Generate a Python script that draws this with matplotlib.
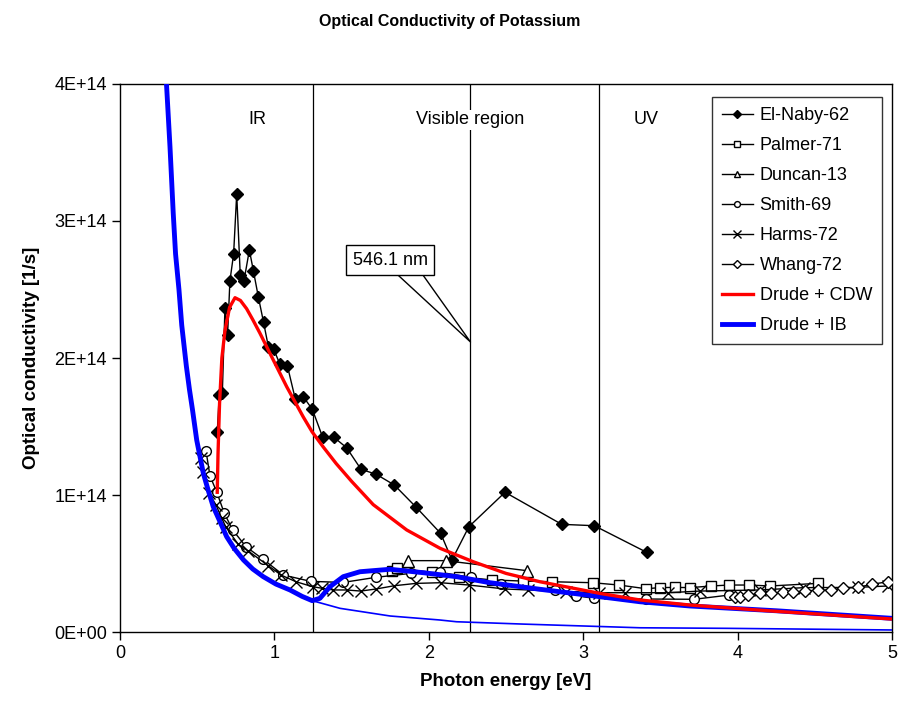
import matplotlib
matplotlib.use('Agg')
import matplotlib.pyplot as plt

plt.rcParams['font.family'] = ['Liberation Sans', 'DejaVu Sans']

elnaby_x = [0.63, 0.643, 0.663, 0.68, 0.697, 0.712, 0.736, 0.756, 0.779, 0.803, 0.838, 0.864,
            0.896, 0.93, 0.961, 0.995, 1.036, 1.084, 1.135, 1.187, 1.246, 1.313, 1.386, 1.468,
            1.561, 1.66, 1.777, 1.919, 2.077, 2.15, 2.26, 2.494, 2.861, 3.072, 3.411]
elnaby_y = [1.458, 1.73, 1.747, 2.367, 2.168, 2.562, 2.759, 3.197, 2.606, 2.562, 2.788, 2.637,
            2.447, 2.26, 2.083, 2.066, 1.954, 1.944, 1.703, 1.718, 1.625, 1.421, 1.421, 1.345,
            1.188, 1.151, 1.073, 0.910, 0.720, 0.526, 0.769, 1.020, 0.786, 0.776, 0.582]

palmer_x = [1.764, 1.796, 2.023, 2.198, 2.411, 2.612, 2.8, 3.061, 3.232, 3.407, 3.495, 3.597,
            3.692, 3.828, 3.946, 4.076, 4.21, 4.519]
palmer_y = [0.445, 0.465, 0.436, 0.404, 0.380, 0.372, 0.367, 0.360, 0.343, 0.316, 0.324, 0.326,
            0.324, 0.336, 0.343, 0.343, 0.336, 0.355]

duncan_x = [1.867, 2.109, 2.634]
duncan_y = [0.521, 0.521, 0.448]

smith_x = [0.557, 0.583, 0.626, 0.676, 0.73, 0.816, 0.928, 1.058, 1.235, 1.446, 1.656, 1.883,
           2.073, 2.273, 2.466, 2.817, 2.953, 3.07, 3.405, 3.72, 3.946]
smith_y = [1.323, 1.139, 1.024, 0.866, 0.745, 0.623, 0.530, 0.416, 0.370, 0.362, 0.399, 0.428,
           0.436, 0.399, 0.350, 0.307, 0.265, 0.246, 0.241, 0.239, 0.270]

harms_x = [0.523, 0.540, 0.578, 0.622, 0.659, 0.687, 0.766, 0.831, 0.961, 1.043, 1.14, 1.248,
           1.31, 1.382, 1.468, 1.559, 1.658, 1.777, 1.917, 2.077, 2.26, 2.494, 2.645, 2.889,
           3.104, 3.271, 3.551, 3.756, 4.145, 4.432, 4.778, 4.972]
harms_y = [1.268, 1.170, 1.012, 0.927, 0.830, 0.764, 0.640, 0.591, 0.484, 0.416, 0.367, 0.331,
           0.319, 0.307, 0.307, 0.299, 0.314, 0.338, 0.355, 0.360, 0.343, 0.314, 0.307, 0.294,
           0.287, 0.287, 0.287, 0.299, 0.307, 0.324, 0.326, 0.336]

whang_x = [3.983, 4.016, 4.069, 4.145, 4.216, 4.292, 4.361, 4.437, 4.523, 4.603, 4.685, 4.778,
           4.868, 4.972]
whang_y = [0.258, 0.258, 0.270, 0.282, 0.282, 0.290, 0.290, 0.299, 0.307, 0.307, 0.319, 0.326,
           0.348, 0.367]

# model curves
cdw_x = [0.63, 0.635, 0.645, 0.66, 0.68, 0.71, 0.745, 0.78, 0.82, 0.86, 0.907, 0.982, 1.08,
         1.187, 1.245, 1.317, 1.40, 1.50, 1.64, 1.857, 2.073, 2.288, 2.5, 2.72, 3.109, 3.368,
         3.692, 4.2, 4.6, 5.0]
cdw_y = [1.02, 1.30, 1.67, 2.00, 2.20, 2.37, 2.44, 2.42, 2.36, 2.28, 2.18, 2.01, 1.79,
         1.57, 1.46, 1.35, 1.23, 1.10, 0.93, 0.745, 0.611, 0.513, 0.428, 0.367, 0.282, 0.234,
         0.197, 0.155, 0.125, 0.095]

ib_x = [0.302, 0.324, 0.345, 0.36, 0.382, 0.40, 0.43, 0.45, 0.47, 0.497, 0.54, 0.57, 0.604,
        0.65, 0.691, 0.74, 0.8, 0.86, 0.928, 1.01, 1.101, 1.18, 1.245, 1.295, 1.36, 1.446, 1.554,
        1.749, 1.964, 2.18, 2.396, 2.72, 3.109, 3.368, 3.692, 4.253, 5.0]
ib_y = [3.985, 3.54, 3.056, 2.76, 2.50, 2.24, 1.94, 1.77, 1.62, 1.401, 1.158, 1.04, 0.915,
        0.80, 0.696, 0.61, 0.526, 0.46, 0.404, 0.35, 0.307, 0.26, 0.229, 0.246, 0.331, 0.404, 0.44,
        0.458, 0.433, 0.404, 0.360, 0.312, 0.258, 0.221, 0.190, 0.155, 0.10]

drude_x = [1.2, 1.245, 1.425, 1.75, 2.07, 2.18, 2.61, 3.37, 3.93, 5.0]
drude_y = [0.249, 0.229, 0.173, 0.117, 0.088, 0.075, 0.058, 0.031, 0.027, 0.015]

region_lines = [1.25, 2.27, 3.10]
region_labels = ['IR', 'Visible region', 'UV']
region_label_x = [0.89, 2.27, 3.41]

yticks = [0, 1, 2, 3, 4]
ytick_labels = ['0E+00', '1E+14', '2E+14', '3E+14', '4E+14']

fig = plt.figure(figsize=(9, 7.08), dpi=100)
ax = fig.add_axes([0.1333, 0.1073, 0.8578, 0.7741])

for xv in region_lines:
    ax.axvline(xv, color='black', lw=0.9, zorder=1)

for lx, lab in zip(region_label_x, region_labels):
    ax.text(lx, 3.74, lab, ha='center', va='center', fontsize=13,
            bbox=dict(facecolor='white', edgecolor='none', pad=1), zorder=2)

kw = dict(color='black', lw=1, zorder=3)
ax.plot(elnaby_x, elnaby_y, marker='D', ms=6.5, mfc='black', mec='black', label='El-Naby-62', **kw)
ax.plot(palmer_x, palmer_y, marker='s', ms=7, mfc='white', mec='black', label='Palmer-71', **kw)
ax.plot(duncan_x, duncan_y, marker='^', ms=8, mfc='white', mec='black', label='Duncan-13', **kw)
ax.plot(smith_x, smith_y, marker='o', ms=7, mfc='white', mec='black', label='Smith-69', **kw)
ax.plot(harms_x, harms_y, marker='x', ms=8.5, mec='black', label='Harms-72', **kw)
ax.plot(whang_x, whang_y, marker='D', ms=6.5, mfc='white', mec='black', label='Whang-72', **kw)

ax.plot(drude_x, drude_y, color='blue', lw=1.2, zorder=4)
ax.plot(cdw_x, cdw_y, color='red', lw=2.4, label='Drude + CDW', zorder=5)
ax.plot(ib_x, ib_y, color='blue', lw=3.5, label='Drude + IB', zorder=4)

# callout for 546.1 nm line
ax.plot([1.80, 2.27, 1.962], [2.606, 2.117, 2.606], color='black', lw=1, zorder=6)
ax.text(1.749, 2.715, '546.1 nm', ha='center', va='center', fontsize=13, zorder=7,
        bbox=dict(facecolor='white', edgecolor='black', lw=1, pad=5))

ax.set_xlim(0, 5)
ax.set_ylim(0, 4)
ax.set_xticks([0, 1, 2, 3, 4, 5])
ax.set_yticks(yticks)
ax.set_yticklabels(ytick_labels)
ax.tick_params(direction='out', length=6, labelsize=13, width=1)
for s in ax.spines.values():
    s.set_linewidth(1)

ax.set_xlabel('Photon energy [eV]', fontsize=13.5, fontweight='bold', labelpad=8)
ax.set_ylabel('Optical conductivity [1/s]', fontsize=13.5, fontweight='bold', labelpad=10)
fig.text(0.5, 0.97, 'Optical Conductivity of Potassium', ha='center', va='center',
         fontsize=11.5, fontweight='bold')

leg = ax.legend(loc='upper right', bbox_to_anchor=(0.987, 0.976), borderaxespad=0, fontsize=13,
                frameon=True, fancybox=False, edgecolor='black', handlelength=1.75,
                handletextpad=0.35, markerscale=0.6, labelspacing=0.72, borderpad=0.55)
leg.get_frame().set_linewidth(1)

fig.savefig('out.png', dpi=100)
